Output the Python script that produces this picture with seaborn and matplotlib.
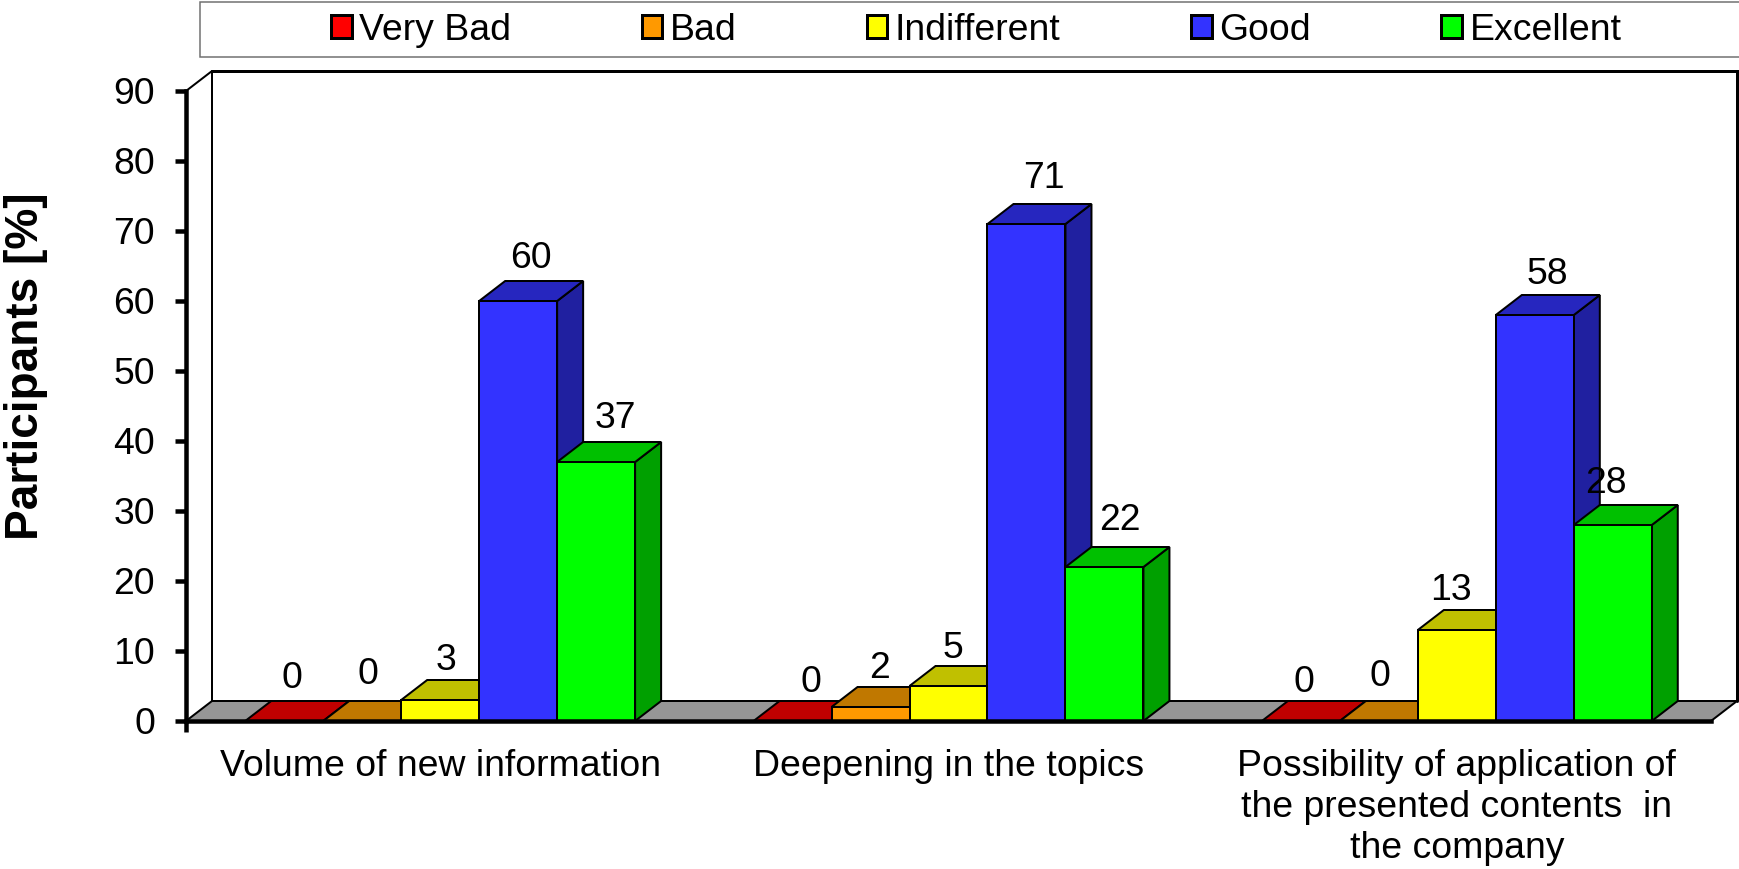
import matplotlib
matplotlib.use("Agg")
import matplotlib.pyplot as plt
from matplotlib.patches import Polygon, Rectangle
from matplotlib.lines import Line2D
import pandas as pd
import seaborn as sns

# ---------- data ----------
aspects = ["Volume of new information",
           "Deepening in the topics",
           "Possibility of application of\nthe presented contents  in\nthe company"]
ratings = ["Very Bad", "Bad", "Indifferent", "Good", "Excellent"]
very_bad = [0, 0, 0]
bad = [0, 2, 0]
indifferent = [3, 5, 13]
good = [60, 71, 58]
excellent = [37, 22, 28]
y_ticks = [0, 10, 20, 30, 40, 50, 60, 70, 80, 90]

# ---------- style ----------
front_colors = ["#FF0000", "#FF9900", "#FFFF00", "#3333FF", "#00FF00"]
top_colors = ["#C00000", "#C07800", "#C0C000", "#2626BF", "#00C000"]
side_colors = ["#A00000", "#A06000", "#A0A000", "#2020A0", "#00A000"]
FLOOR = "#969696"
W, H = 1740, 869
AX_L, AX_R, AX_T, AX_B = 186, 1711, 91, 721   # pixel frame of the front plane
DEPTH_PX = (26, 20)
FS = 37.4 * 0.72
LW = 2 * 0.72
# hand-placed label shifts of the original chart (pixels), per rating then aspect
label_dx = [[-5, 5, -10], [-7, -4, -12], [-7, -9, -19], [0, 4, 0], [6, 2, -20]]
label_dy = [[0, -4, -3], [5, -4, 2], [-2, -4, -3], [0, 4, -1], [1, 5, -1]]

sns.set_style("ticks")
plt.rcParams["font.family"] = ["Liberation Sans", "DejaVu Sans"]

df = pd.DataFrame({
    "Aspect": aspects * len(ratings),
    "Rating": [r for r in ratings for _ in aspects],
    "Participants": very_bad + bad + indifferent + good + excellent,
})

fig = plt.figure(figsize=(W / 100, H / 100), dpi=100, facecolor="white")
ax = fig.add_axes([AX_L / W, 1 - AX_B / H, (AX_R - AX_L) / W, (AX_B - AX_T) / H])
sns.barplot(data=df, x="Aspect", y="Participants", hue="Rating", hue_order=ratings,
            order=aspects, palette=front_colors, saturation=1, width=0.767, gap=0,
            edgecolor="black", linewidth=LW, legend=False, ax=ax)
ax.set_xlim(-0.5, 2.5)
ax.set_ylim(0, 90)
ax.set_yticks(y_ticks)
ax.set_facecolor("none")

ddx = DEPTH_PX[0] * 3 / (AX_R - AX_L)
ddy = DEPTH_PX[1] * 90 / (AX_B - AX_T)

# back wall, side walls and floor
ax.add_patch(Polygon([(-0.5, 0), (2.5, 0), (2.5 + ddx, ddy), (-0.5 + ddx, ddy)], closed=True,
                     fc=FLOOR, ec="black", lw=LW, clip_on=False, zorder=1))
ax.add_line(Line2D([-0.5 + ddx, -0.5 + ddx], [ddy, 90 + ddy], color="black", lw=LW, clip_on=False, zorder=1))
ax.add_line(Line2D([-0.5, -0.5 + ddx], [90, 90 + ddy], color="black", lw=LW, clip_on=False, zorder=1))
ax.add_line(Line2D([-0.5 + ddx, 2.5 + ddx, 2.5 + ddx], [90 + ddy, 90 + ddy, ddy], color="black",
                   lw=3 * 0.72, clip_on=False, zorder=1, solid_joinstyle="miter"))

# 3D faces of the bars: painted left to right so nearer faces overlap
z = 3.0
for k in range(len(aspects)):
    for i, cont in enumerate(ax.containers):
        bar = cont.patches[k]
        x0, x1 = bar.get_x(), bar.get_x() + bar.get_width()
        h = bar.get_height()
        ax.add_patch(Polygon([(x1, 0), (x1 + ddx, ddy), (x1 + ddx, h + ddy), (x1, h)], closed=True,
                             fc=side_colors[i], ec="black", lw=LW, clip_on=False, zorder=z))
        ax.add_patch(Polygon([(x0, h), (x1, h), (x1 + ddx, h + ddy), (x0 + ddx, h + ddy)], closed=True,
                             fc=top_colors[i], ec="black", lw=LW, clip_on=False, zorder=z + 0.1))
        bar.set_zorder(z + 0.2)
        bar.set_clip_on(False)
        ax.annotate(f"{h:.0f}", xy=((x0 + x1) / 2 + ddx / 2, h + ddy),
                    xytext=(label_dx[i][k], 22 + label_dy[i][k]), textcoords="offset pixels",
                    ha="center", va="center", fontsize=FS, color="black", zorder=40)
        z += 1

# axes
sns.despine(ax=ax)
for s in ("left", "bottom"):
    ax.spines[s].set_linewidth(4.5 * 0.72)
    ax.spines[s].set_zorder(50)
    ax.spines[s].set_color("black")
ax.tick_params(axis="y", length=11 * 0.72, width=4.5 * 0.72, pad=20 * 0.72,
               labelsize=FS, color="black", labelcolor="black")
ax.tick_params(axis="x", which="major", length=0, pad=28 * 0.72, labelsize=FS, labelcolor="black")
ax.set_xticks([-0.5], minor=True)
ax.tick_params(axis="x", which="minor", length=11 * 0.72, width=4.5 * 0.72, color="black")
for t in ax.get_xticklabels():
    t.set_multialignment("center")
    t.set_linespacing(1.23)
ax.set_xlabel("")
ax.set_ylabel("")
fig.text(26 / W, 1 - 366 / H, "Participants [%]", rotation=90, ha="center", va="center",
         fontsize=46 * 0.72, fontweight="bold", color="black")

# legend band and entries
fig.add_artist(Rectangle((200 / W, 1 - 57 / H), (W - 200 + 10) / W, 55 / H, transform=fig.transFigure,
                         fc="white", ec="#6E6E6E", lw=1.5 * 0.72, clip_on=True))
handles = [c.patches[0] for c in ax.containers]
leg = fig.legend(handles, ratings, ncols=5, loc="center left", frameon=False, fontsize=FS,
                 handlelength=0.55, handleheight=0.55, handletextpad=0.2, borderpad=0,
                 borderaxespad=0, labelcolor="black", columnspacing=3.49,
                 bbox_to_anchor=(331 / W, 1 - 30 / H))
for p in leg.get_patches():
    p.set_linewidth(3 * 0.72)
    p.set_edgecolor("black")

fig.savefig("out.png", dpi=100, facecolor="white")
